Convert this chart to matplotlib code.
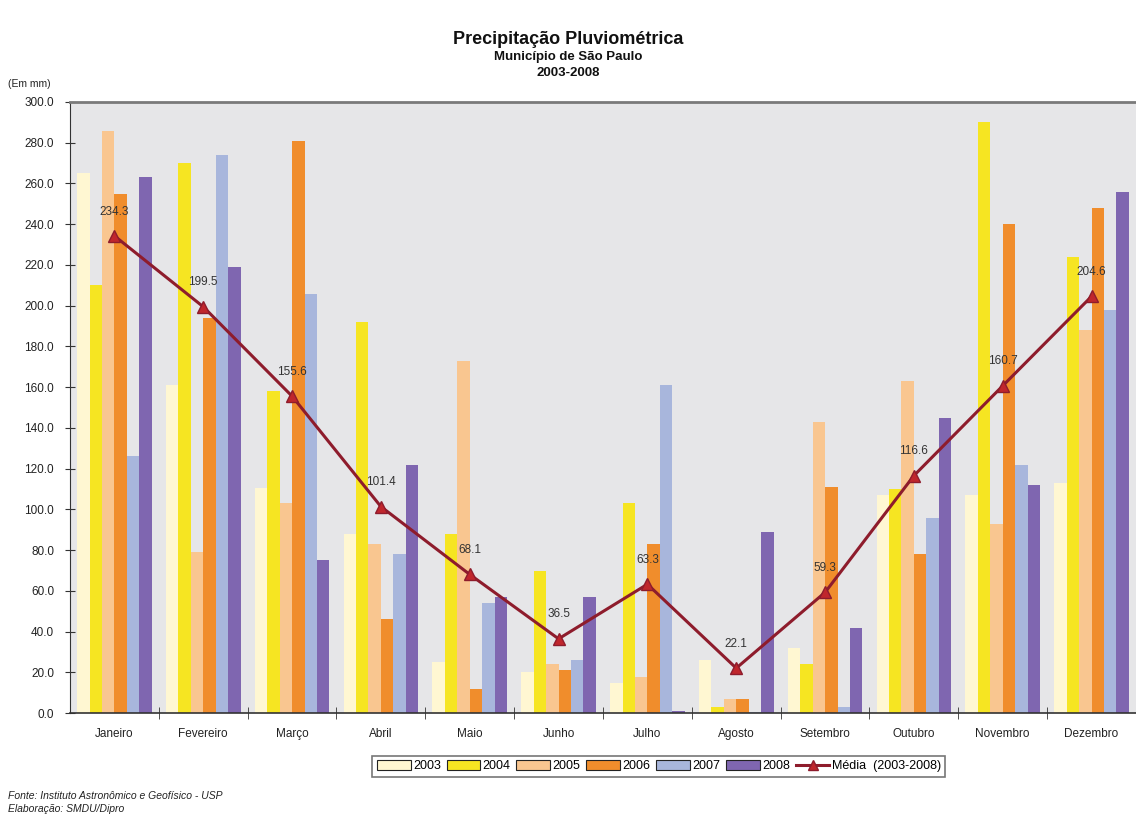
import matplotlib
matplotlib.use("Agg")
import matplotlib.pyplot as plt
import numpy as np
from matplotlib.lines import Line2D
from matplotlib.patches import Patch

plt.rcParams['font.family'] = ['Liberation Sans', 'DejaVu Sans']

months = ["Janeiro", "Fevereiro", "Março", "Abril", "Maio", "Junho",
          "Julho", "Agosto", "Setembro", "Outubro", "Novembro", "Dezembro"]
years = ["2003", "2004", "2005", "2006", "2007", "2008"]

v2003 = [265, 161, 110.6, 88, 25, 20, 15, 26, 32, 107, 107, 113]
v2004 = [210, 270, 158, 192, 88, 70, 103, 3, 24, 110, 290, 224]
v2005 = [286, 79, 103, 83, 173, 24, 18, 7, 143, 163, 93, 188]
v2006 = [255, 194, 281, 46, 12, 21, 83, 7, 111, 78, 240, 248]
v2007 = [126, 274, 206, 78, 54, 26, 161, 0.5, 3, 96, 122, 198]
v2008 = [263, 219, 75, 122, 57, 57, 1, 89, 42, 145, 112, 256]
media = [234.3, 199.5, 155.6, 101.4, 68.1, 36.5, 63.3, 22.1, 59.3, 116.6, 160.7, 204.6]

series = [v2003, v2004, v2005, v2006, v2007, v2008]
colors = ["#fff7d2", "#f6e522", "#f9c690", "#f08d2c", "#a8b6dc", "#7f66b0"]
line_color = "#8e1c2c"
marker_color = "#c0262c"

fig = plt.figure(figsize=(11.36, 8.16), dpi=100)
ax = fig.add_axes([0.0616, 0.126, 0.9384, 0.749])
ax.set_facecolor("#e6e6e8")

x = np.arange(len(months))
bw = 0.14
for i, (vals, c) in enumerate(zip(series, colors)):
    ax.bar(x + (i - 2.5) * bw, vals, width=bw, color=c, edgecolor="none", zorder=2)

ax.plot(x, media, color=line_color, lw=2.2, marker="^", ms=8,
        mfc=marker_color, mec=line_color, zorder=4)
for xi, m in zip(x, media):
    ax.text(xi, m + 9, f"{m:.1f}", ha="center", va="bottom",
            fontsize=8.5, color="#333333", zorder=5)

ax.set_xlim(-0.5, len(months) - 0.5)
ax.set_ylim(0, 300)
ax.set_yticks(np.arange(0, 301, 20))
ax.set_yticklabels([f"{v:.1f}" for v in np.arange(0, 301, 20)], fontsize=8.5, color="#222222")
ax.set_xticks(x)
ax.set_xticklabels(months, fontsize=8.5, color="#222222")
ax.tick_params(axis="x", length=0, pad=11)
ax.set_xticks(np.arange(0.5, len(months) - 0.5, 1), minor=True)
ax.tick_params(axis="x", which="minor", length=8, direction="inout", color="#333333")
ax.tick_params(axis="y", length=7, direction="inout", color="#333333", pad=8)

ax.spines["right"].set_visible(False)
ax.spines["top"].set_color("#7a7a7a")
ax.spines["top"].set_linewidth(2)
ax.spines["left"].set_color("#333333")
ax.spines["bottom"].set_color("#333333")
ax.spines["bottom"].set_linewidth(1.2)

fig.text(0.5, 0.952, "Precipitação Pluviométrica", ha="center", va="center",
         fontsize=13, fontweight="bold", color="#111111")
fig.text(0.5, 0.930, "Município de São Paulo", ha="center", va="center",
         fontsize=9.5, fontweight="bold", color="#111111")
fig.text(0.5, 0.911, "2003-2008", ha="center", va="center",
         fontsize=9.5, fontweight="bold", color="#111111")
fig.text(0.007, 0.897, "(Em mm)", ha="left", va="center", fontsize=7.5, color="#222222")

handles = [Patch(facecolor=c, edgecolor="#222222", lw=0.8) for c in colors]
handles.append(Line2D([0], [0], color=line_color, lw=2.2, marker="^", ms=7,
                      mfc=marker_color, mec=line_color))
labels = years + ["Média  (2003-2008)"]
leg = fig.legend(handles, labels, loc="center", bbox_to_anchor=(0.58, 0.061),
                 ncol=7, fontsize=9, frameon=True, fancybox=False,
                 handlelength=2.7, handleheight=0.9, handletextpad=0.2,
                 columnspacing=0.45, borderpad=0.35, borderaxespad=0)
leg.get_frame().set_edgecolor("#555555")
leg.get_frame().set_linewidth(1.2)

fig.text(0.007, 0.025, "Fonte: Instituto Astronômico e Geofísico - USP", ha="left",
         va="center", fontsize=7.5, style="italic", color="#222222")
fig.text(0.007, 0.009, "Elaboração: SMDU/Dipro", ha="left",
         va="center", fontsize=7.5, style="italic", color="#222222")

fig.savefig("out.png", dpi=100, facecolor="white")
